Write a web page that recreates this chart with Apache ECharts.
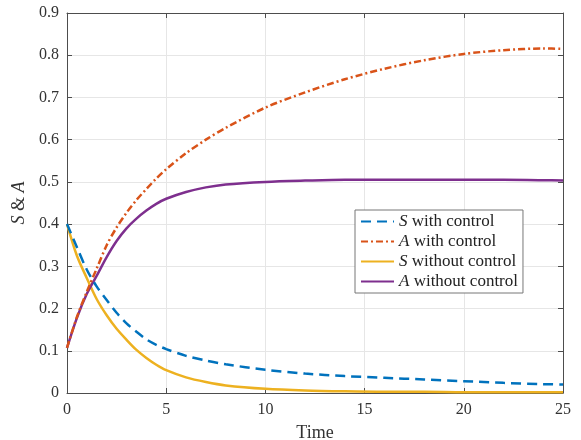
<!DOCTYPE html>
<html>
<head>
<meta charset="utf-8">
<script src="https://cdn.jsdelivr.net/npm/echarts@6/dist/echarts.min.js"></script>
<style>
  html, body { margin: 0; padding: 0; background: #fff; }
  #chart { width: 581px; height: 440px; }
</style>
</head>
<body>
<div id="chart"></div>
<script>
// time points (x)
var time = [0, 0.5, 1, 1.5, 2, 2.5, 3, 3.5, 4, 4.5, 5, 6, 7, 8, 10, 12, 14, 16, 18, 20, 22, 24, 25];
// S with control (blue dashed)
var sWith = [0.400, 0.345, 0.292, 0.252, 0.220, 0.190, 0.165, 0.145, 0.127, 0.114, 0.104, 0.088, 0.077, 0.068, 0.055, 0.046, 0.040, 0.036, 0.032, 0.028, 0.024, 0.021, 0.020];
// A with control (orange dash-dot)
var aWith = [0.107, 0.180, 0.240, 0.295, 0.350, 0.392, 0.427, 0.457, 0.483, 0.508, 0.530, 0.568, 0.600, 0.628, 0.676, 0.712, 0.743, 0.768, 0.788, 0.803, 0.812, 0.816, 0.815];
// S without control (yellow)
var sWithout = [0.400, 0.325, 0.272, 0.222, 0.184, 0.152, 0.126, 0.102, 0.083, 0.067, 0.054, 0.037, 0.026, 0.018, 0.010, 0.006, 0.004, 0.003, 0.003, 0.002, 0.002, 0.002, 0.002];
// A without control (purple)
var aWithout = [0.107, 0.178, 0.235, 0.278, 0.322, 0.360, 0.390, 0.413, 0.432, 0.448, 0.460, 0.476, 0.487, 0.494, 0.500, 0.503, 0.505, 0.505, 0.505, 0.505, 0.505, 0.504, 0.503];

var serif = '"Liberation Serif", "DejaVu Serif", serif';

function pairs(ys) {
  return time.map(function (t, i) { return [t, ys[i]]; });
}

var chart = echarts.init(document.getElementById('chart'));

var frameLine = { show: true, onZero: false, lineStyle: { color: '#4d4d4d', width: 1 } };
var gridLine = { show: true, lineStyle: { color: '#e6e6e6', width: 1 } };
var tickIn = { show: true, inside: true, length: 5, lineStyle: { color: '#4d4d4d' } };

var option = {
  animation: false,
  backgroundColor: '#fff',
  grid: { left: 67, right: 18, top: 13, bottom: 47, outerBoundsMode: 'none', containLabel: false },
  xAxis: [
    {
      type: 'value', min: 0, max: 25, interval: 5, position: 'bottom',
      axisLine: frameLine,
      axisTick: tickIn,
      splitLine: gridLine,
      axisLabel: { color: '#333', fontFamily: serif, fontSize: 16, margin: 9 },
      name: 'Time', nameLocation: 'middle', nameGap: 31,
      nameTextStyle: { color: '#333', fontFamily: serif, fontSize: 18 }
    },
    {
      type: 'value', min: 0, max: 25, interval: 5, position: 'top',
      axisLine: frameLine,
      axisTick: tickIn,
      splitLine: { show: false }, axisLabel: { show: false }
    }
  ],
  yAxis: [
    {
      type: 'value', min: 0, max: 0.9, interval: 0.1, position: 'left',
      axisLine: frameLine,
      axisTick: tickIn,
      splitLine: gridLine,
      axisLabel: {
        color: '#333', fontFamily: serif, fontSize: 16, margin: 8,
        formatter: function (v) { return String(+v.toFixed(1)); }
      },
      name: '{i|S} & {i|A}', nameLocation: 'middle', nameGap: 37, nameRotate: 90,
      nameTextStyle: {
        color: '#333', fontFamily: serif, fontSize: 18,
        rich: { i: { fontStyle: 'italic', fontFamily: serif, fontSize: 18, color: '#333' } }
      }
    },
    {
      type: 'value', min: 0, max: 0.9, interval: 0.1, position: 'right',
      axisLine: frameLine,
      axisTick: tickIn,
      splitLine: { show: false }, axisLabel: { show: false }
    }
  ],
  legend: {
    orient: 'vertical',
    left: 355, top: 210,
    padding: [3, 5, 3, 5],
    itemGap: 3,
    itemWidth: 33, itemHeight: 14,
    backgroundColor: '#fff',
    borderColor: '#777', borderWidth: 1, borderRadius: 0,
    itemStyle: { opacity: 0 },
    textStyle: {
      fontFamily: serif, fontSize: 17, color: '#222',
      rich: { i: { fontStyle: 'italic', fontFamily: serif, fontSize: 17, color: '#222' } }
    },
    formatter: function (name) {
      return '{i|' + name.charAt(0) + '}' + name.slice(1);
    },
    data: ['S with control', 'A with control', 'S without control', 'A without control']
  },
  series: [
    {
      name: 'S with control', type: 'line', smooth: 0.3, symbol: 'none',
      xAxisIndex: 0, yAxisIndex: 0,
      data: pairs(sWith), z: 4,
      lineStyle: { color: '#0072BD', width: 2.5, type: [10, 6] },
      itemStyle: { color: '#0072BD' }
    },
    {
      name: 'A with control', type: 'line', smooth: 0.3, symbol: 'none',
      xAxisIndex: 0, yAxisIndex: 0,
      data: pairs(aWith), z: 3,
      lineStyle: { color: '#D95319', width: 2.5, type: [7, 3, 2, 3] },
      itemStyle: { color: '#D95319' }
    },
    {
      name: 'S without control', type: 'line', smooth: 0.3, symbol: 'none',
      xAxisIndex: 0, yAxisIndex: 0,
      data: pairs(sWithout), z: 2,
      lineStyle: { color: '#EDB120', width: 2.5 },
      itemStyle: { color: '#EDB120' }
    },
    {
      name: 'A without control', type: 'line', smooth: 0.3, symbol: 'none',
      xAxisIndex: 0, yAxisIndex: 0,
      data: pairs(aWithout), z: 2,
      lineStyle: { color: '#7E2F8E', width: 2.5 },
      itemStyle: { color: '#7E2F8E' }
    }
  ]
};

chart.setOption(option);
</script>
</body>
</html>
